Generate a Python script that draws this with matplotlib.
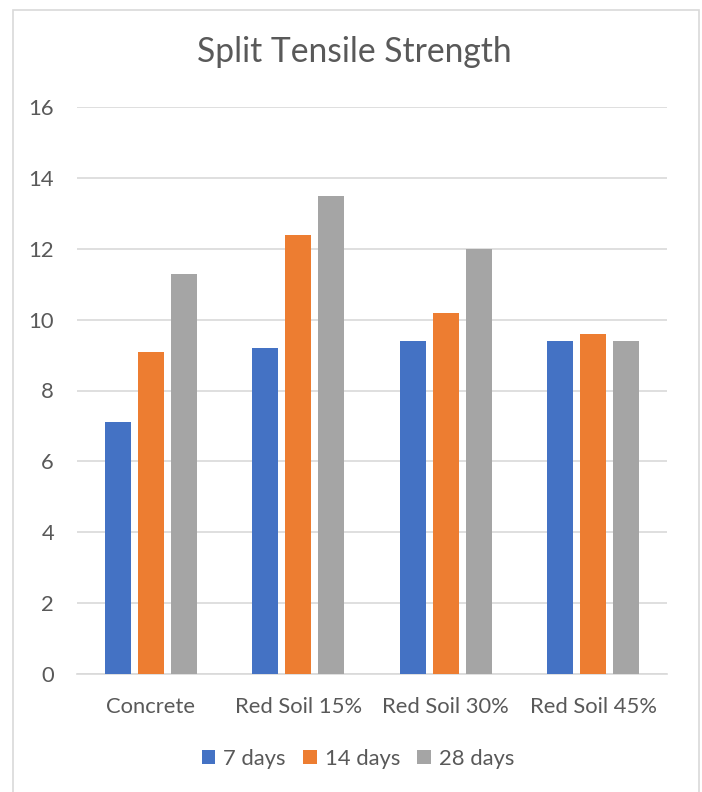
import matplotlib
matplotlib.use("Agg")
import matplotlib.pyplot as plt
import numpy as np
from matplotlib.patches import Rectangle

categories = ["Concrete", "Red Soil 15%", "Red Soil 30%", "Red Soil 45%"]
series_names = ["7 days", "14 days", "28 days"]
days7 = [7.1, 9.2, 9.4, 9.4]
days14 = [9.1, 12.4, 10.2, 9.6]
days28 = [11.3, 13.5, 12.0, 9.4]
yticks = [0, 2, 4, 6, 8, 10, 12, 14, 16]

colors = ["#4472C4", "#ED7D31", "#A5A5A5"]
text_color = "#595959"
grid_color = "#D9D9D9"

plt.rcParams["font.family"] = ["Lato", "DejaVu Sans"]

W, H = 702, 792
fig = plt.figure(figsize=(W / 100, H / 100), dpi=100)

# chart frame
fig.patches.append(Rectangle((13 / W, -0.01), (699 - 13) / W, 1.01 - 10 / H,
                             transform=fig.transFigure, fill=False,
                             edgecolor=grid_color, linewidth=1.2))

left, right = 77, 667
top, bottom = 107, 674
ax = fig.add_axes([left / W, 1 - bottom / H, (right - left) / W, (bottom - top) / H])

x = np.arange(len(categories))
width = 0.176
step = 0.224
for i, (vals, name) in enumerate(zip([days7, days14, days28], series_names)):
    ax.bar(x + (i - 1) * step, vals, width, color=colors[i], label=name, zorder=3)

ax.set_xlim(-0.5, len(categories) - 0.5)
ax.set_ylim(0, 16)
ax.set_yticks(yticks)
ax.set_yticklabels([str(t) for t in yticks])
ax.set_xticks(x)
ax.set_xticklabels(categories)
ax.yaxis.grid(True, color=grid_color, linewidth=1.2, zorder=0)
for s in ["top", "right", "left"]:
    ax.spines[s].set_visible(False)
ax.spines["bottom"].set_color(grid_color)
ax.spines["bottom"].set_linewidth(1.2)
ax.tick_params(axis="both", length=0, colors=text_color, labelsize=15.8)
ax.tick_params(axis="y", pad=16.5)
ax.tick_params(axis="x", pad=16.5)

fig.text(354 / W, 1 - 52 / H, "Split Tensile Strength", ha="center", va="center",
         fontsize=24.2, color=text_color)

leg = ax.legend(loc="center", bbox_to_anchor=(358 / W, 1 - 759 / H),
                bbox_transform=fig.transFigure, ncol=3, frameon=False,
                fontsize=15.8, handlelength=0.62, handleheight=0.62,
                handletextpad=0.35, columnspacing=0.8)
for t in leg.get_texts():
    t.set_color(text_color)

fig.savefig("out.png", dpi=100, facecolor="white")
